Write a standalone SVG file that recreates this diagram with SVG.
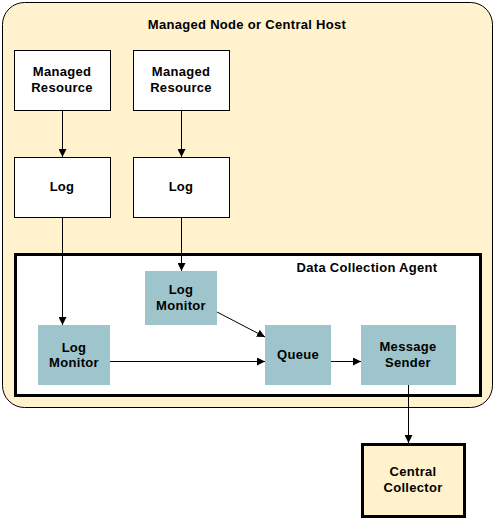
<svg xmlns="http://www.w3.org/2000/svg" width="495" height="522" viewBox="0 0 495 522">
<style>
text{font-family:"Liberation Sans",Arial,sans-serif;font-weight:bold;font-size:13px;letter-spacing:0.3px;text-anchor:middle;fill:#000}
.w{fill:#fff;stroke:#000;stroke-width:1}
.t{fill:#9EC5CC;stroke:none}
.c{stroke:#000;stroke-width:1;fill:none;marker-end:url(#ah)}
</style>
<defs>
<marker id="ah" viewBox="0 0 10 10" refX="10" refY="5" markerWidth="8" markerHeight="8" markerUnits="userSpaceOnUse" orient="auto">
<path d="M0,0 L10,5 L0,10 z" fill="#000"/>
</marker>
</defs>
<g id="host">
<rect x="2.5" y="2.5" width="490" height="405" rx="22" ry="22" fill="#FFF2CC" stroke="#000" stroke-width="1"/>
<text x="247" y="29">Managed Node or Central Host</text>
</g>
<g id="agent">
<rect x="15.5" y="254.5" width="465" height="141" fill="#fff" stroke="#000" stroke-width="3"/>
<text x="367" y="272">Data Collection Agent</text>
</g>
<g id="mr1"><rect class="w" x="14.5" y="50.5" width="96" height="60"/><text x="62" y="76">Managed</text><text x="62" y="92">Resource</text></g>
<g id="mr2"><rect class="w" x="133.5" y="50.5" width="96" height="60"/><text x="181" y="76">Managed</text><text x="181" y="92">Resource</text></g>
<g id="log1"><rect class="w" x="14.5" y="157.5" width="96" height="60"/><text x="62" y="191">Log</text></g>
<g id="log2"><rect class="w" x="133.5" y="157.5" width="96" height="60"/><text x="181" y="191">Log</text></g>
<g id="lm2"><rect class="t" x="145" y="271" width="72" height="54"/><text x="181" y="294">Log</text><text x="181" y="310">Monitor</text></g>
<g id="lm1"><rect class="t" x="38" y="325" width="72" height="60"/><text x="74" y="352">Log</text><text x="74" y="367">Monitor</text></g>
<g id="queue"><rect class="t" x="265" y="325" width="66" height="60"/><text x="298" y="359">Queue</text></g>
<g id="sender"><rect class="t" x="361" y="325" width="95" height="60"/><text x="408" y="351">Message</text><text x="408" y="367">Sender</text></g>
<g id="collector"><rect x="362.5" y="444.5" width="102" height="72" fill="#FFF2CC" stroke="#000" stroke-width="3"/><text x="413" y="476">Central</text><text x="413" y="492">Collector</text></g>
<g id="connectors">
<line class="c" x1="62.5" y1="110" x2="62.5" y2="157"/>
<line class="c" x1="181.5" y1="110" x2="181.5" y2="157"/>
<line class="c" x1="62.5" y1="217" x2="62.5" y2="325"/>
<line class="c" x1="181.5" y1="217" x2="181.5" y2="271"/>
<line class="c" x1="217" y1="312" x2="265" y2="337"/>
<line class="c" x1="110" y1="361.5" x2="265" y2="361.5"/>
<line class="c" x1="331" y1="361.5" x2="361" y2="361.5"/>
<line class="c" x1="408.5" y1="385" x2="408.5" y2="443"/>
</g>
</svg>
